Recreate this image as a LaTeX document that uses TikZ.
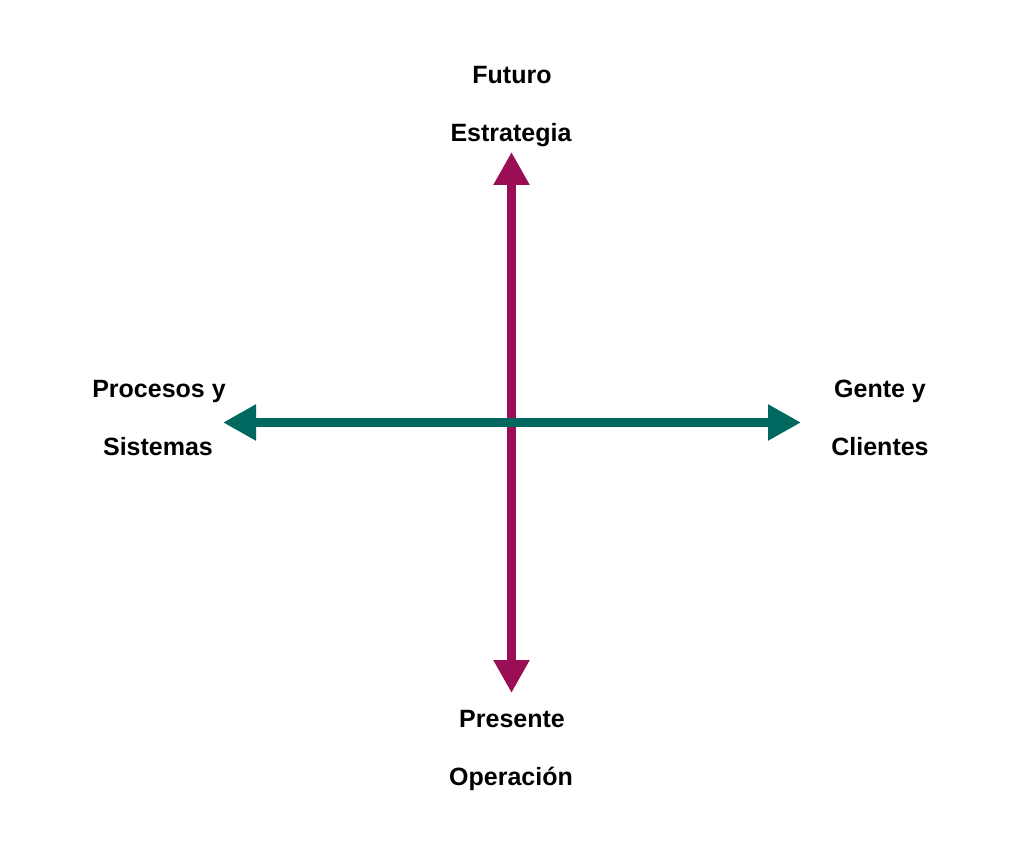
\documentclass[tikz,border=0pt]{standalone}
\usepackage{fontspec}
\setmainfont{Liberation Sans}
\usetikzlibrary{arrows.meta}
\definecolor{axmag}{HTML}{990E55}
\definecolor{axteal}{HTML}{00685F}
\tikzset{
  lbl/.style={anchor=base, inner sep=0pt, font=\fontsize{25}{29}\selectfont\bfseries, text=black},
  axis/.style={line width=9pt, {Triangle[length=33pt,width=34pt]}-{Triangle[length=33pt,width=34pt]}}
}
\begin{document}
\begin{tikzpicture}[x=1pt,y=1pt]
\useasboundingbox[fill=white] (0,0) rectangle (1024,857);
% coordinates (y measured from top: 857 - y)
\coordinate (top) at (511.5,857-152);
\coordinate (bot) at (511.5,857-693);
\coordinate (lft) at (223,857-422.5);
\coordinate (rgt) at (801,857-422.5);
\draw[axis, draw=axmag, fill=axmag] (bot) -- (top);
\draw[axis, draw=axteal, fill=axteal] (lft) -- (rgt);
% labels
\node[lbl] (futuro) at (512,857-84) {Futuro};
\node[lbl] (estrategia) at (511,857-142) {Estrategia};
\node[lbl] (procesos) at (159,857-398) {Procesos y};
\node[lbl] (sistemas) at (158,857-456) {Sistemas};
\node[lbl] (gente) at (880,857-398) {Gente y};
\node[lbl] (clientes) at (880,857-456) {Clientes};
\node[lbl] (presente) at (512,857-727) {Presente};
\node[lbl] (operacion) at (511,857-785) {Operación};
\end{tikzpicture}
\end{document}
